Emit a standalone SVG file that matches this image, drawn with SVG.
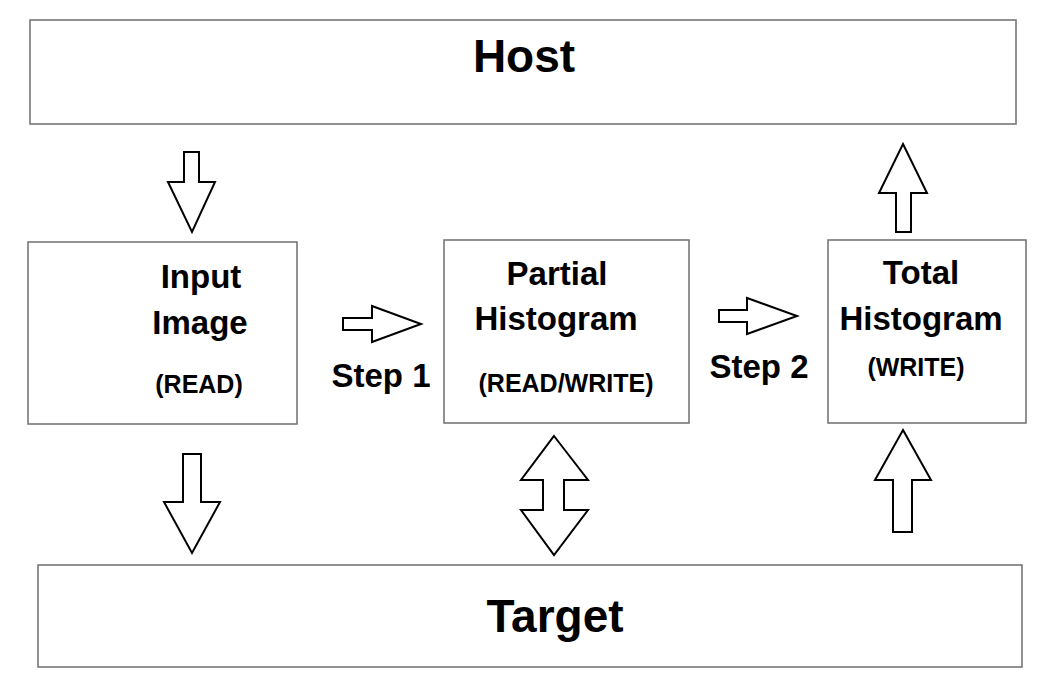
<svg xmlns="http://www.w3.org/2000/svg" width="1050" height="686" viewBox="0 0 1050 686">
<style>
.box{fill:#fff;stroke:#777;stroke-width:1.6}
.arr{fill:#fff;stroke:#000;stroke-width:2;stroke-linejoin:miter}
text{font-family:"Liberation Sans",Arial,sans-serif;font-weight:bold;fill:#000;text-anchor:middle}
.big{font-size:46px}
.mid{font-size:33px}
.sm{font-size:25px}
</style>
<rect width="1050" height="686" fill="#fff"/>
<g id="host">
<rect class="box" x="30" y="20" width="986" height="104"/>
<text class="big" x="524" y="72">Host</text>
</g>
<g id="input">
<rect class="box" x="28" y="242" width="269" height="182"/>
<text class="mid" x="201" y="288">Input</text>
<text class="mid" x="200" y="334">Image</text>
<text class="sm" x="199" y="393">(READ)</text>
</g>
<g id="partial">
<rect class="box" x="444" y="240" width="245" height="183"/>
<text class="mid" x="557" y="285">Partial</text>
<text class="mid" x="556" y="330">Histogram</text>
<text class="sm" x="566" y="392">(READ/WRITE)</text>
</g>
<g id="total">
<rect class="box" x="828" y="240" width="198" height="183"/>
<text class="mid" x="921" y="284">Total</text>
<text class="mid" x="921" y="330">Histogram</text>
<text class="sm" x="916" y="376">(WRITE)</text>
</g>
<g id="target">
<rect class="box" x="38" y="565" width="984" height="102"/>
<text class="big" x="555" y="632">Target</text>
</g>
<g id="connectors">
<polygon class="arr" points="184,152 199,152 199,182 215,182 192,232 168,182 184,182"/>
<polygon class="arr" points="343,318 372,318 372,306 421,324 372,342 372,330 343,330"/>
<text class="mid" x="381" y="387">Step 1</text>
<polygon class="arr" points="183,454 201,454 201,502 220,502 192,553 164,502 183,502"/>
<polygon class="arr" points="554,436 588,480 564,480 564,510 588,510 554,555 521,510 543,510 543,480 521,480"/>
<polygon class="arr" points="719,310 747,310 747,298 797,316 747,334 747,322 719,322"/>
<text class="mid" x="759" y="378">Step 2</text>
<polygon class="arr" points="903,144 927,193 911,193 911,232 896,232 896,193 879,193"/>
<polygon class="arr" points="903,430 931,480 912,480 912,532 893,532 893,480 875,480"/>
</g>
</svg>
